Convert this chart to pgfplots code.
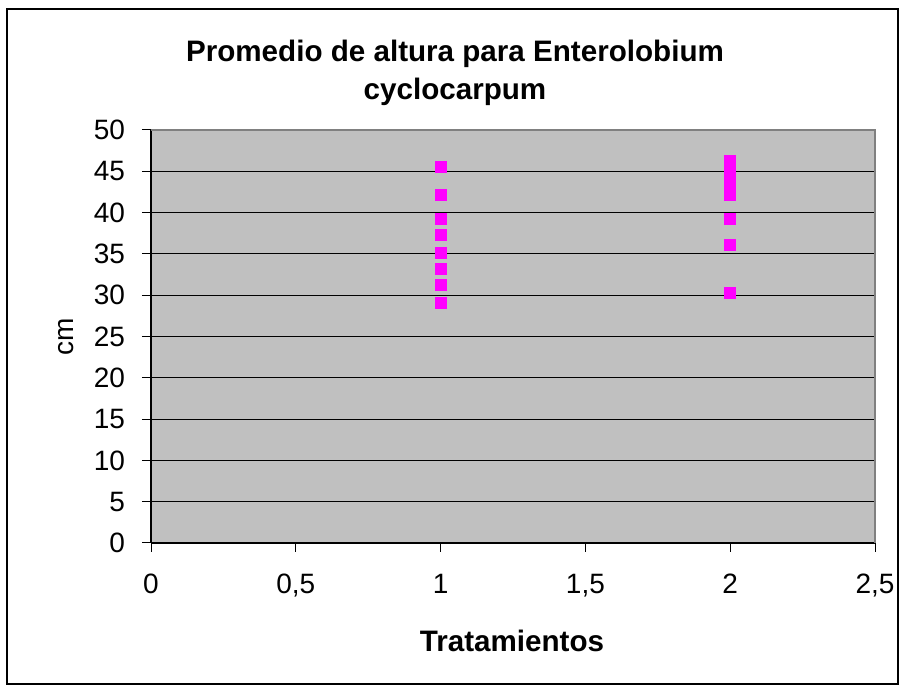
\documentclass[border=0pt]{standalone}
\usepackage{pgfplots}
\pgfplotsset{compat=1.18}
\usepackage{fontspec}
\setmainfont{Liberation Sans}
\definecolor{plotbg}{HTML}{C0C0C0}
\definecolor{framegray}{HTML}{808080}
\definecolor{markmag}{HTML}{FF00FF}
\begin{document}
\begin{tikzpicture}
\useasboundingbox (0,0) rectangle (450pt,344pt);
\draw[line width=0.75pt] (3.5pt,2pt) rectangle (449pt,339.5pt);
% title
\node[anchor=base, font=\bfseries\fontsize{14.8}{17}\selectfont] at (227.5pt,313pt) {Promedio de altura para Enterolobium};
\node[anchor=base, font=\bfseries\fontsize{14.8}{17}\selectfont] at (227.5pt,294pt) {cyclocarpum};
% axis titles
\node[anchor=base, font=\bfseries\fontsize{14.8}{17}\selectfont] at (256pt,18pt) {Tratamientos};
\node[anchor=base, rotate=90, font=\fontsize{14}{17}\selectfont] at (36.5pt,175.5pt) {cm};
\begin{axis}[
  at={(75.5pt,72.5pt)}, anchor=south west,
  scale only axis, width=362pt, height=206.5pt,
  xmin=0, xmax=2.5, ymin=0, ymax=50,
  xtick={0,0.5,1,1.5,2,2.5},
  ytick={0,5,...,50},
  axis lines=left,
  axis line style={-, black, line width=0.6pt},
  axis background/.style={fill=plotbg},
  ymajorgrids, major grid style={black, line width=0.5pt},
  tick align=outside, major tick length=4.5pt,
  tick style={black, line width=0.5pt},
  /pgf/number format/assume math mode=true,
  /pgf/number format/use comma,
  ticklabel style={font=\fontsize{14}{16}\selectfont},
  xticklabel style={yshift=-7.5pt},
  yticklabel style={xshift=-5pt},
  clip=false,
]
\addplot[only marks, mark=square*, mark size=2.75pt, color=markmag]
  coordinates {(1,45.5) (1,42.1) (1,39.2) (1,37.3) (1,35.1) (1,33.2) (1,31.2) (1,29.1)};
\addplot[only marks, mark=square*, mark size=2.75pt, color=markmag]
  coordinates {(2,46.2) (2,45.2) (2,44.2) (2,43.1) (2,42.1) (2,39.2) (2,36.1) (2,30.3)};
\draw[framegray, line width=0.75pt] (rel axis cs:0,1) -- (rel axis cs:1,1) -- (rel axis cs:1,0);
\end{axis}
\end{tikzpicture}
\end{document}
